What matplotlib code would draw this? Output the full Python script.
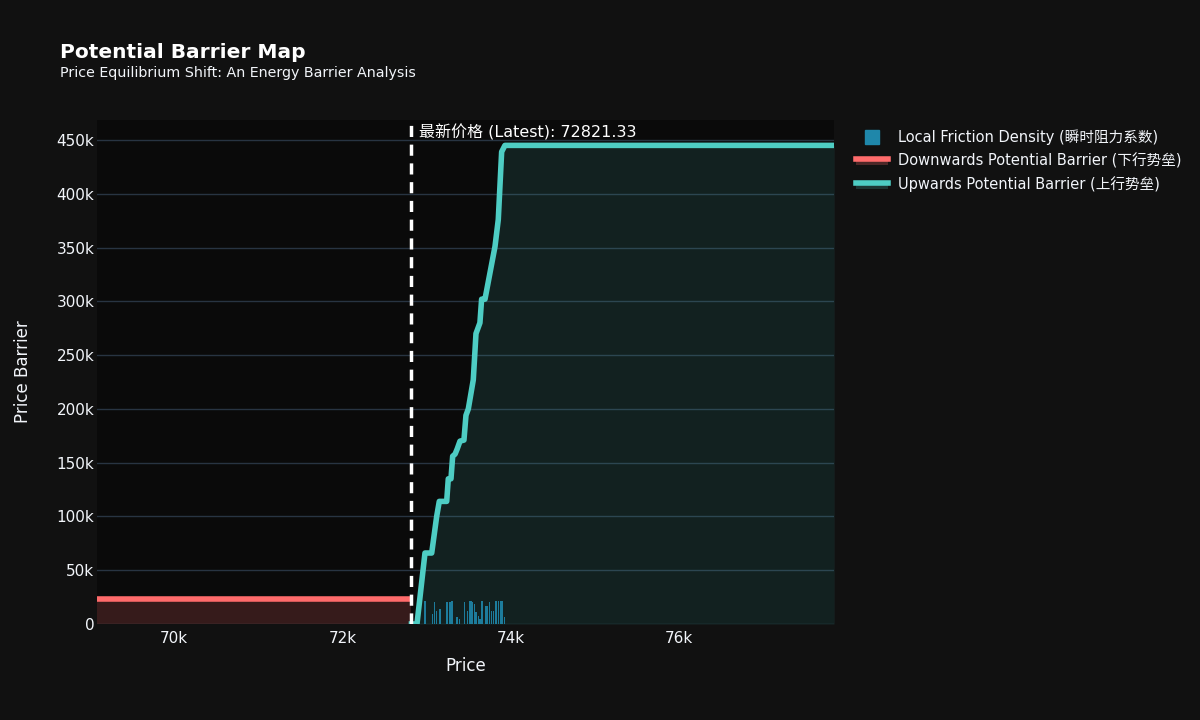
import matplotlib
matplotlib.use("Agg")
import matplotlib.pyplot as plt
from matplotlib.lines import Line2D
from matplotlib.patches import Rectangle
from matplotlib.legend_handler import HandlerBase
from matplotlib.ticker import FuncFormatter, MultipleLocator

plt.rcParams['font.family'] = ['DejaVu Sans', 'Noto Sans CJK SC']

latest_price = 72821.33

down_prices = [69085, latest_price]
down_values = [23200, 23200]

up_prices = [latest_price, 72887, 72982, 73062, 73121, 73152, 73240, 73259, 73291,
             73311, 73340, 73366, 73398, 73445, 73469, 73497, 73556, 73588, 73635,
             73655, 73695, 73814, 73853, 73893, 73932, 77842]
up_values = [0, 0, 66000, 66000, 100000, 114000, 114000, 135000, 135000,
             156000, 158000, 163000, 170000, 171000, 194000, 200000, 227000, 270000, 280000,
             302000, 302000, 351000, 376000, 439000, 445000, 445000]

bar_prices = [72890, 72982, 73072, 73092, 73120, 73160, 73243, 73279, 73303, 73362, 73390,
              73450, 73489, 73509, 73529, 73548, 73568, 73588, 73619, 73636, 73660,
              73707, 73727, 73747, 73774, 73798, 73826, 73853, 73885, 73905, 73925]
bar_values = [4000, 21700, 9300, 20000, 12400, 14000, 20000, 20000, 21700, 6200, 4600,
              20000, 12400, 21700, 21700, 20000, 18600, 10800, 7700, 4600, 21700,
              17000, 17000, 20000, 12400, 12400, 21700, 21700, 21700, 21700, 6200]

x_min, x_max = 69085, 77842
y_max = 468600

paper = '#111111'
plot_bg = '#0a0a0a'
teal = '#4ECDC4'
red = '#FF6B6B'
bar_color = '#1f87aa'
text_col = '#f2f5fa'

fig = plt.figure(figsize=(12, 7.2), dpi=100, facecolor=paper)
ax = fig.add_axes([97/1200, 96/720, (834-97)/1200, (624-120)/720])
ax.set_facecolor(plot_bg)

ax.fill_between(down_prices, down_values, 0, color=red, alpha=0.18, linewidth=0, zorder=1)
ax.fill_between(up_prices, up_values, 0, color=teal, alpha=0.12, linewidth=0, zorder=1)
ax.bar(bar_prices, bar_values, width=14, color=bar_color, alpha=0.9, zorder=2, linewidth=0)
ax.plot(down_prices, down_values, color=red, linewidth=4, zorder=3, solid_capstyle='butt')
ax.plot(up_prices, up_values, color=teal, linewidth=4, zorder=3, solid_joinstyle='round')
ax.axvline(latest_price, color='white', linewidth=2.5, linestyle=(0, (3.2, 2.2)), zorder=4)

ax.text(latest_price + 95, y_max - 4000, f'最新价格 (Latest): {latest_price:.2f}',
        color='white', fontsize=11.5, va='top', ha='left', zorder=5)

ax.set_xlim(x_min, x_max)
ax.set_ylim(0, y_max)
ax.xaxis.set_major_locator(MultipleLocator(2000))
ax.yaxis.set_major_locator(MultipleLocator(50000))
ax.xaxis.set_major_formatter(FuncFormatter(lambda v, p: f'{int(v/1000)}k'))
ax.yaxis.set_major_formatter(FuncFormatter(lambda v, p: '0' if v == 0 else f'{int(v/1000)}k'))
ax.grid(axis='y', color='#283442', linewidth=1, zorder=0)
ax.set_axisbelow(True)
for s in ax.spines.values():
    s.set_visible(False)
ax.tick_params(axis='y', colors=text_col, labelsize=11, length=0, pad=2)
ax.tick_params(axis='x', colors=text_col, labelsize=11, length=0, pad=5)
ax.set_xlabel('Price', color=text_col, fontsize=12)
ax.set_ylabel('Price Barrier', color=text_col, fontsize=12)
ax.xaxis.set_label_coords((466-97)/(834-97), -(666-624)/(624-120))
ax.yaxis.set_label_coords(-(97-23)/(834-97), (624-372)/(624-120))
ax.xaxis.label.set_va('center')
ax.yaxis.label.set_va('center')

fig.text(60/1200, 1-52/720, 'Potential Barrier Map', color='white', fontsize=14.5,
         fontweight='bold', va='center', ha='left')
fig.text(60/1200, 1-73/720, 'Price Equilibrium Shift: An Energy Barrier Analysis',
         color=text_col, fontsize=10.3, va='center', ha='left')


class FillLineHandler(HandlerBase):
    def __init__(self, color, fill_alpha):
        super().__init__()
        self.color = color
        self.fill_alpha = fill_alpha

    def create_artists(self, legend, orig_handle, xdescent, ydescent, width, height, fontsize, trans):
        y_line = height * 0.62
        rect = Rectangle((-xdescent, -ydescent + height * 0.05), width, y_line - height * 0.05,
                         facecolor=self.color, alpha=self.fill_alpha, edgecolor='none', transform=trans)
        line = Line2D([-xdescent, -xdescent + width], [y_line, y_line], color=self.color,
                      linewidth=4, transform=trans)
        return [rect, line]


h_bar = Line2D([], [], marker='s', color=bar_color, linestyle='none', markersize=10)
h_down = Line2D([], [], color=red)
h_up = Line2D([], [], color=teal)
leg = fig.legend([h_bar, h_down, h_up],
                 ['Local Friction Density (瞬时阻力系数)',
                  'Downwards Potential Barrier (下行势垒)',
                  'Upwards Potential Barrier (上行势垒)'],
                 handler_map={h_down: FillLineHandler(red, 0.25), h_up: FillLineHandler(teal, 0.2)},
                 loc='upper left', bbox_to_anchor=(843/1200, 1-116/720),
                 frameon=False, fontsize=10.5, labelcolor=text_col,
                 handlelength=2.2, handletextpad=0.7, labelspacing=0.55)

fig.savefig('out.png', dpi=100, facecolor=paper)
